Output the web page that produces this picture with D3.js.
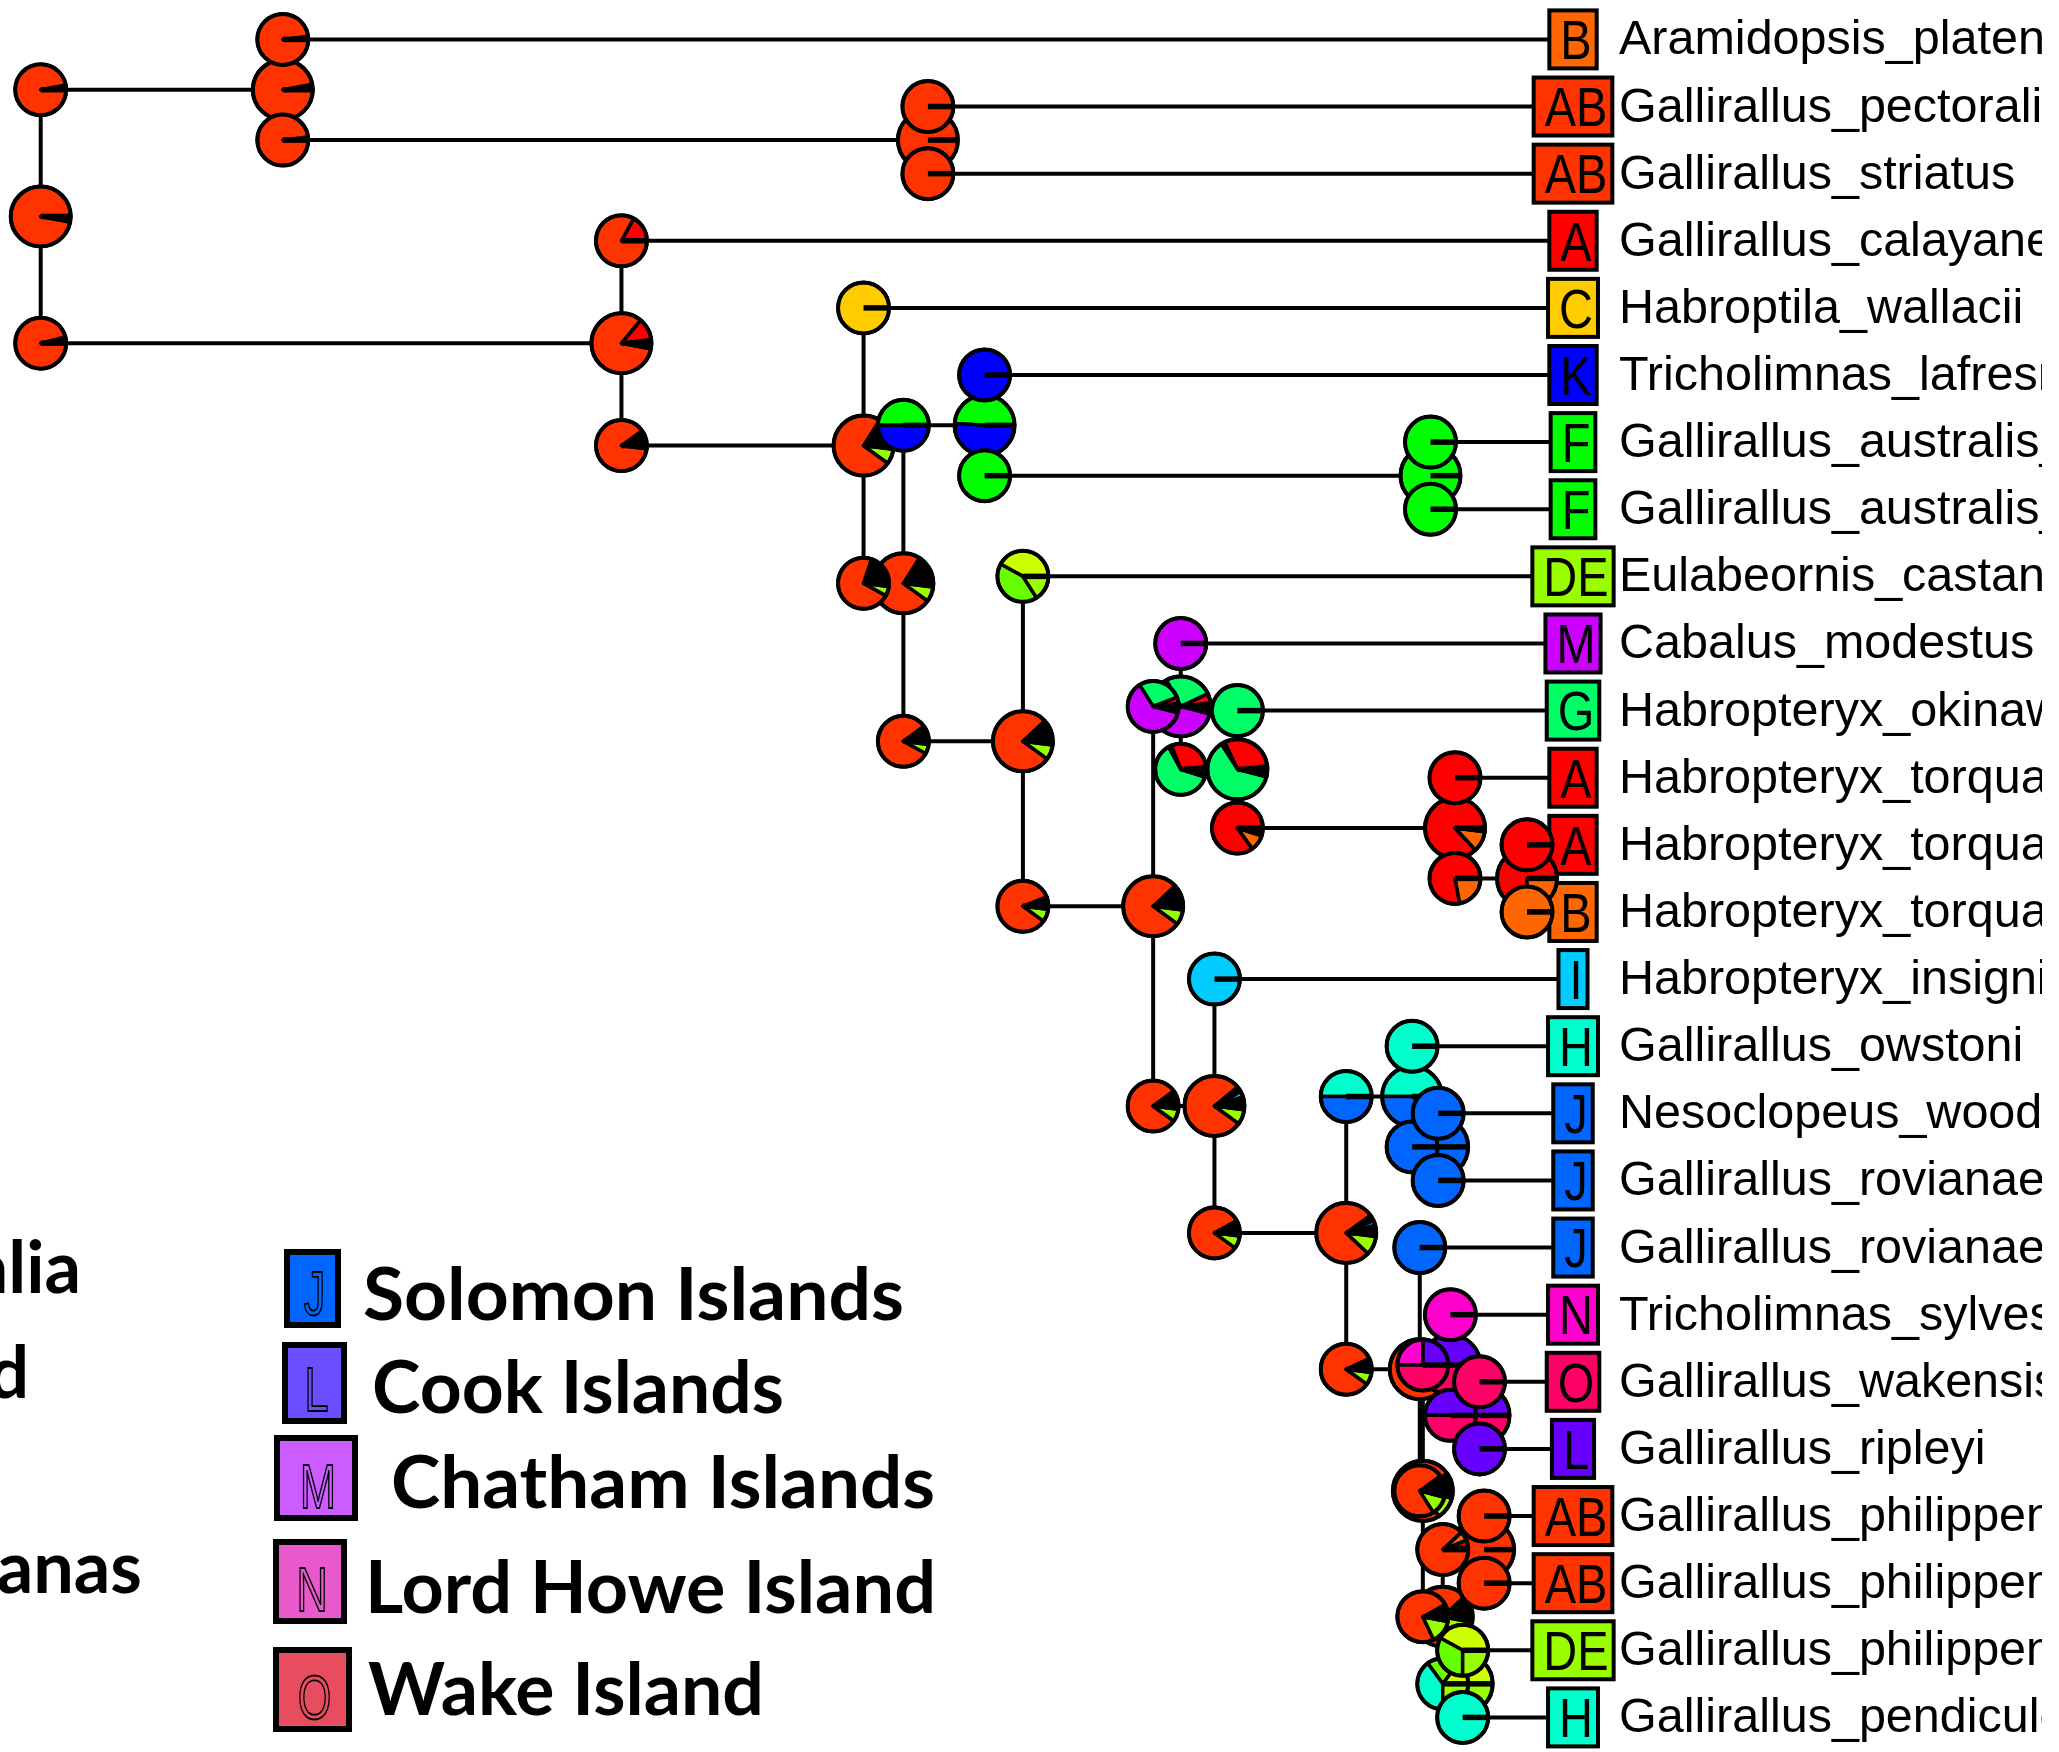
<!DOCTYPE html>
<html><head><meta charset="utf-8">
<script src="https://cdn.jsdelivr.net/npm/d3@7"></script>
<style>html,body{margin:0;padding:0;background:#fff;overflow:hidden}</style>
</head><body>
<svg id="chart" width="2059" height="1752"></svg>
<script>
// ---------------- DATA ----------------
const tipNames = ["Aramidopsis_plateni","Gallirallus_pectoralis","Gallirallus_striatus","Gallirallus_calayanensis","Habroptila_wallacii","Tricholimnas_lafresnayanus","Gallirallus_australis_australis","Gallirallus_australis_greyi","Eulabeornis_castaneoventris","Cabalus_modestus","Habropteryx_okinawae","Habropteryx_torquatus_torquatus","Habropteryx_torquatus_celebensis","Habropteryx_torquatus_sulcirostris","Habropteryx_insignis","Gallirallus_owstoni","Nesoclopeus_woodfordi","Gallirallus_rovianae","Gallirallus_rovianae","Tricholimnas_sylvestris","Gallirallus_wakensis","Gallirallus_ripleyi","Gallirallus_philippensis_1","Gallirallus_philippensis_2","Gallirallus_philippensis_3","Gallirallus_pendiculentus"];
const tipStates = ["B","AB","AB","A","C","K","F","F","DE","M","G","A","A","B","I","H","J","J","J","N","O","L","AB","AB","DE","H"];
const tipTime = 10;

const nodeNames = ["R","N1","N2","N3","N4","N5","N6","N7","N8","N9","N10","N11","N12","N13","N14","N15","N16","N17","N18","N19","N20","N21","N22","N23","N24"];
const nodeTimes = [0,1.58,5.79,3.79,5.37,5.63,6.16,9.07,6.41,7.26,7.44,7.81,9.23,9.70,7.66,8.52,8.95,9.12,9.00,9.02,9.20,9.39,9.15,9.42,9.28];
const nodeKids = [["N1","N3"],["T0","N2"],["T1","T2"],["T3","N4"],["T4","N5"],["N6","N8"],["T5","N7"],["T6","T7"],["T8","N9"],["N10","N14"],["T9","N11"],["T10","N12"],["T11","N13"],["T12","T13"],["T14","N15"],["N16","N18"],["T15","N17"],["T16","T17"],["T18","N19"],["N20","N22"],["T19","N21"],["T20","T21"],["N23","N24"],["T22","T23"],["T24","T25"]];

// state probabilities, slices counter-clockwise from 3 o'clock ("x" = many tiny states)
const nodePies = ["x .005|AB .965|x .03","x .03|AB .97","AB 1","x .02|A .12|AB .83|x .03","x .16|AB .74|DE .08|x .02","x .16|AB .74|DE .08|x .02","F .49|K .51","F 1","x .12|AB .78|DE .08|x .02","x .11|A .01|AB .78|DE .08|x .02","x .02|A .05|G .26|M .63|x .04","x .02|A .3|x .02|G .62|x .04","A .87|B .11|x .02","A .75|B .25","x .05|I .03|x .03|AB .79|DE .08|x .02","x .04|J .03|x .03|AB .78|DE .10|x .02","H .5|J .5","J 1","x .04|J .02|AB .80|DE .10|x .04","x .10|AB .74|DE .12|x .04","L .45|N .2|O .35","L .5|O .5","x .12|AB .70|DE .15|x .03","AB 1","D .3|E .2|H .2|DE .3"];
const upperCornerPies = ["x .03|AB .97","x .02|AB .98","AB 1","A .17|AB .83","C 1","F .5|K .5","K 1","F 1","D .42|E .42|DE .16","x .02|A .04|G .28|M .62|x .04","M 1","G 1","A 1","A 1","I 1","H .5|J .5","H 1","J 1","J 1","L .25|N .25|O .5","N 1","O 1","x .02|A .04|B .06|AB .88","AB 1","D .42|E .33|DE .25"];
const lowerCornerPies = ["x .04|AB .96","x .02|AB .98","AB 1","x .06|C .02|x .02|AB .88|x .02","x .2|AB .72|DE .06|x .02","x .1|AB .82|DE .06|x .02","F 1","F 1","x .06|AB .84|DE .08|x .02","x .05|I .02|x .03|AB .80|DE .08|x .02","x .02|A .29|x .02|G .62|x .05","A .85|B .1|x .05","A .78|B .22","B 1","x .04|J .02|x .02|AB .82|DE .08|x .02","x .03|J .02|x .02|AB .83|DE .08|x .02","J 1","J 1","x .10|AB .74|DE .12|x .04","x .08|AB .74|DE .15|x .03","L .5|O .5","L 1","D .15|E .2|H .4|DE .25","AB 1","H 1"];

const stateCodes  = ["A","B","C","D","E","F","G","H","I","J","K","L","M","N","O","AB","DE","x"];
const stateColors = ["#FF0000","#FF6600","#FFCC00","#CCFF00","#66FF00","#00FF00","#00FF66","#00FFCC","#00CCFF","#0066FF","#0000FF","#6600FF","#CC00FF","#FF00CC","#FF0066","#FF3300","#99FF00","#000000"];

const legendCodes  = ["J","L","M","N","O"];
const legendNames  = ["Solomon Islands","Cook Islands","Chatham Islands","Lord Howe Island","Wake Island"];
const legendColors = ["#0066FF","#6A4FFF","#CC5CFF","#E85ACB","#E84C5F"];
const legendCutNames = ["Australia","New Zealand","Marianas"];

// ---------------- DRAW ----------------
const svg = d3.select("#chart");
svg.append("rect").attr("width",2059).attr("height",1752).attr("fill","#fff");
svg.append("defs").append("clipPath").attr("id","labelClip")
  .append("rect").attr("x",0).attr("y",0).attr("width",2042).attr("height",1752);
const color = d3.scaleOrdinal(stateCodes, stateColors);
const x = d3.scaleLinear([0, tipTime], [40.7, 1573]);
const y = d3.scaleLinear([0, tipNames.length - 1], [39.4, 1717.4]);

const posCache = {};
function pos(id){
  if (posCache[id]) return posCache[id];
  let p;
  if (id[0] === "T") { const i = +id.slice(1); p = {x: x(tipTime), y: y(i)}; }
  else {
    const i = nodeNames.indexOf(id);
    const a = pos(nodeKids[i][0]), b = pos(nodeKids[i][1]);
    p = {x: x(nodeTimes[i]), y: (a.y + b.y) / 2};
  }
  return posCache[id] = p;
}
const parsePie = s => s.split("|").map(t => { const [k, v] = t.split(" "); return {k, v: +v}; });

const gLines = svg.append("g").attr("stroke","#000").attr("stroke-width",4).attr("stroke-linecap","butt");
nodeNames.forEach((n, i) => {
  const p = pos(n), a = pos(nodeKids[i][0]), b = pos(nodeKids[i][1]);
  gLines.append("line").attr("x1",p.x).attr("x2",p.x).attr("y1",a.y).attr("y2",b.y);
  [a, b].forEach(c => gLines.append("line").attr("x1",p.x).attr("x2",c.x).attr("y1",c.y).attr("y2",c.y));
});

// tip boxes and labels
const gTips = svg.append("g");
const gLabels = svg.append("g").attr("clip-path","url(#labelClip)");
tipNames.forEach((name, i) => {
  const p = pos("T" + i);
  const g = gTips.append("g").attr("transform", `translate(${p.x},${p.y})`);
  const rect = g.append("rect").attr("fill", color(tipStates[i])).attr("stroke","#000").attr("stroke-width",4);
  const t = g.append("text").attr("font-family","'Liberation Sans', Arial, sans-serif").attr("font-size",47)
    .attr("text-anchor","middle").attr("transform","scale(1,1.2)").attr("y",16.5).attr("x",3).attr("fill","#000").text(tipStates[i]);
  const w = t.node().getComputedTextLength() + 16;
  rect.attr("x", -w/2).attr("y", -29).attr("width", w).attr("height", 58);
  gLabels.append("text").attr("x", 1619).attr("y", p.y + 15)
    .attr("font-family","'Liberation Sans', Arial, sans-serif").attr("font-size",48.5).attr("fill","#000").text(name);
});

// pies
const pie = d3.pie().value(d => d.v).sort(null).startAngle(Math.PI/2).endAngle(Math.PI/2 - 2*Math.PI);
function drawPie(parent, cx, cy, r, spec){
  const g = parent.append("g").attr("transform", `translate(${cx},${cy})`);
  const arc = d3.arc().innerRadius(0).outerRadius(r);
  g.selectAll("path").data(pie(parsePie(spec))).join("path")
    .attr("d", arc).attr("fill", d => color(d.data.k))
    .attr("stroke","#000").attr("stroke-width",3.5).attr("stroke-linejoin","round");
  g.append("line").attr("x1",0).attr("y1",0).attr("x2",r).attr("y2",0).attr("stroke","#000").attr("stroke-width",5.5);
  g.append("circle").attr("r", r).attr("fill","none").attr("stroke","#000").attr("stroke-width",4);
}
const gNodePies = svg.append("g");
nodeNames.forEach((n, i) => { const p = pos(n); drawPie(gNodePies, p.x, p.y, 30, nodePies[i]); });
const gCornerPies = svg.append("g");
nodeNames.forEach((n, i) => {
  const p = pos(n), a = pos(nodeKids[i][0]), b = pos(nodeKids[i][1]);
  drawPie(gCornerPies, p.x, a.y, 25.5, upperCornerPies[i]);
  drawPie(gCornerPies, p.x, b.y, 25.5, lowerCornerPies[i]);
});

// legend
const legendFont = "Lato, 'Open Sans', sans-serif";
const gLeg = svg.append("g");
const cutLayout = [{x:81, y:1293}, {x:29, y:1398}, {x:142, y:1593}];
legendCutNames.forEach((nm, i) => {
  gLeg.append("text").attr("x", cutLayout[i].x).attr("y", cutLayout[i].y).attr("text-anchor","end")
    .attr("font-family", legendFont).attr("font-weight", 700).attr("font-size", 72).attr("fill","#000").text(nm);
});
const legLayout = [
  {bx:284, by:1249, bw:57, bh:79, tx:363, ty:1320, tw:541},
  {bx:282, by:1342, bw:65, bh:82, tx:372, ty:1413, tw:412},
  {bx:274, by:1435, bw:84, bh:86, tx:391, ty:1508, tw:544},
  {bx:273, by:1539, bw:74, bh:85, tx:365, ty:1613, tw:571},
  {bx:273, by:1647, bw:79, bh:85, tx:368, ty:1715, tw:396}
];
legendCodes.forEach((c, i) => {
  const L = legLayout[i];
  gLeg.append("rect").attr("x", L.bx + 3).attr("y", L.by + 3).attr("width", L.bw - 6).attr("height", L.bh - 6)
    .attr("fill", legendColors[i]).attr("stroke","#000").attr("stroke-width",6);
  gLeg.append("text").attr("transform", `translate(${L.bx + L.bw/2 + 2},${L.by + L.bh - 13}) scale(0.8,1.15)`)
    .attr("text-anchor","middle").attr("font-family","'Liberation Sans', Arial, sans-serif").attr("font-size",54)
    .attr("fill", legendColors[i]).attr("stroke","#000").attr("stroke-width",1.6).text(c);
  gLeg.append("text").attr("x", L.tx).attr("y", L.ty).attr("font-family", legendFont).attr("font-weight", 700)
    .attr("font-size", 72).attr("textLength", L.tw).attr("lengthAdjust","spacingAndGlyphs").attr("fill","#000").text(legendNames[i]);
});
</script>
</body></html>
